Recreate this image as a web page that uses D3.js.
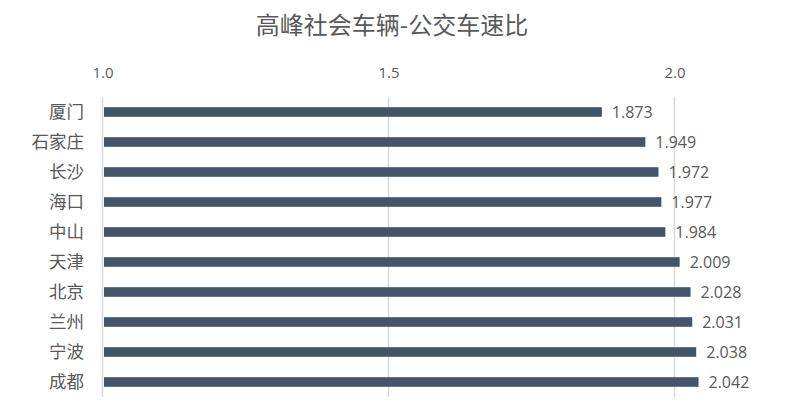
<!DOCTYPE html>
<html>
<head>
<meta charset="utf-8">
<script src="https://cdn.jsdelivr.net/npm/d3@7"></script>
<style>
  body { margin: 0; background: #fff; }
  svg text { font-family: "Noto Sans CJK SC", "Open Sans", sans-serif; }
</style>
</head>
<body>
<svg width="788" height="404"></svg>
<script>
var cities = ["厦门", "石家庄", "长沙", "海口", "中山", "天津", "北京", "兰州", "宁波", "成都"];
var ratios = [1.873, 1.949, 1.972, 1.977, 1.984, 2.009, 2.028, 2.031, 2.038, 2.042];
var tickValues = [1.0, 1.5, 2.0];
var title = "高峰社会车辆-公交车速比";

function createChart() {
    var svg = d3.select("svg");
    var data = cities.map((c, i) => ({city: c, value: ratios[i]}));

    var xScale = d3.scaleLinear().domain([1.0, 2.0]).range([102.5, 674.5]);
    var yScale = d3.scaleBand().domain(cities).range([97, 397])
        .paddingInner(0.68).paddingOuter(0.34);

    // title
    svg.append("text")
        .attr("x", 392).attr("y", 34)
        .attr("text-anchor", "middle")
        .style("font-size", "24px")
        .style("fill", "#595959")
        .text(title);

    // gridlines
    svg.append("g").selectAll("line")
        .data(tickValues).enter().append("line")
        .attr("x1", d => xScale(d)).attr("x2", d => xScale(d))
        .attr("y1", 97).attr("y2", 397)
        .style("stroke", "#d9d9d9")
        .style("stroke-width", 1.5);

    // top axis, labels only
    var xAxis = d3.axisTop().scale(xScale)
        .tickValues(tickValues)
        .tickSize(0)
        .tickPadding(0)
        .tickFormat(d3.format(".1f"));
    var xAxisG = svg.append("g")
        .attr("id", "xAxisG")
        .attr("transform", "translate(0,78)")
        .call(xAxis);
    xAxisG.select(".domain").remove();
    xAxisG.selectAll("text")
        .style("font-family", "'Open Sans', sans-serif")
        .style("font-size", "15px")
        .style("fill", "#595959");

    // left axis, category labels
    var yAxis = d3.axisLeft().scale(yScale).tickSize(0).tickPadding(0);
    var yAxisG = svg.append("g")
        .attr("id", "yAxisG")
        .attr("transform", "translate(84,0)")
        .call(yAxis);
    yAxisG.select(".domain").remove();
    yAxisG.selectAll("text")
        .style("font-family", "'Noto Sans CJK SC', sans-serif")
        .style("font-size", "17.5px")
        .style("fill", "#595959");

    // bars
    svg.selectAll("rect.bar")
        .data(data).enter().append("rect")
        .attr("class", "bar")
        .attr("x", xScale(1.0) + 1.5)
        .attr("y", d => yScale(d.city))
        .attr("width", d => xScale(d.value) - xScale(1.0) - 1.5)
        .attr("height", yScale.bandwidth())
        .style("fill", "#44546a");

    // value labels
    svg.selectAll("text.val")
        .data(data).enter().append("text")
        .attr("class", "val")
        .attr("x", d => xScale(d.value) + 10)
        .attr("y", d => yScale(d.city) + yScale.bandwidth() / 2)
        .attr("dy", "0.38em")
        .style("font-family", "'Open Sans', sans-serif")
        .style("font-size", "16px")
        .style("fill", "#595959")
        .text(d => d3.format(".3f")(d.value));
}
createChart();
</script>
</body>
</html>
